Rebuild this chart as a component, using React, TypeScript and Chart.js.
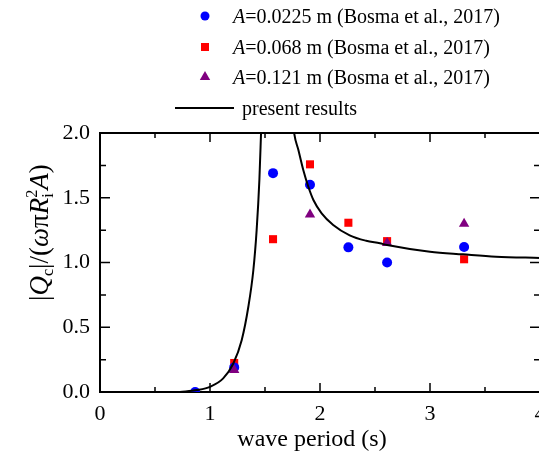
import React, { useEffect, useRef } from "react";
import { Chart, registerables } from "chart.js";

Chart.register(...registerables);

const FONT = "'Liberation Serif', 'Times New Roman', serif";

// tick values
const xTickValues = [0, 1, 2, 3, 4];
const xMinorValues = [0.5, 1.5, 2.5, 3.5];
const yTickValues = [0, 0.5, 1.0, 1.5, 2.0];
const yMinorValues = [0.25, 0.75, 1.25, 1.75];

// Bosma et al., 2017 – A = 0.0225 m
const periodsA1 = [0.865, 1.22, 1.573, 1.909, 2.258, 2.61, 3.31];
const valuesA1 = [0.0, 0.19, 1.69, 1.6, 1.117, 1.0, 1.12];
// A = 0.068 m
const periodsA2 = [1.22, 1.573, 1.909, 2.258, 2.61, 3.31];
const valuesA2 = [0.224, 1.18, 1.758, 1.307, 1.165, 1.025];
// A = 0.121 m
const periodsA3 = [1.22, 1.909, 2.61, 3.31];
const valuesA3 = [0.17, 1.37, 1.15, 1.3];

// present results (null = break at resonance)
const curvePeriods = [
  0.727, 0.88, 1.0, 1.12, 1.212, 1.288, 1.349, 1.394, 1.424, 1.449, 1.464, 1.48,
  1.6,
  1.72, 1.74, 1.767, 1.803, 1.848, 1.894, 1.94, 2.015, 2.12, 2.27, 2.42, 2.545,
  2.61, 3.0, 3.3, 3.6, 4.0,
];
const curveValues = [
  0.0, 0.015, 0.04, 0.105, 0.22, 0.4, 0.66, 0.94, 1.25, 1.64, 2.0, 2.4,
  null,
  2.4, 2.2, 1.99, 1.87, 1.714, 1.585, 1.483, 1.38, 1.29, 1.21, 1.168, 1.148,
  1.135, 1.083, 1.063, 1.045, 1.035,
];

const legendLabels = [
  "=0.0225 m (Bosma et al., 2017)",
  "=0.068 m (Bosma et al., 2017)",
  "=0.121 m (Bosma et al., 2017)",
];
const curveLabel = "present results";
const xTitle = "wave period (s)";

const BLUE = "#0000FF";
const RED = "#FF0000";
const PURPLE = "#800080";

function pts(xs: number[], ys: (number | null)[]) {
  return xs.map((x, i) => ({ x, y: ys[i] }));
}

const decorPlugin = {
  id: "decor",
  beforeDatasetsDraw(chart: any) {
    const ctx = chart.ctx;
    const { left, right, top, bottom } = chart.chartArea;
    const xs = chart.scales.x;
    const ys = chart.scales.y;
    ctx.save();
    ctx.strokeStyle = "#000";
    ctx.lineWidth = 2;
    ctx.beginPath();
    ctx.rect(left, top, right - left, bottom - top);
    ctx.stroke();
    ctx.lineWidth = 1.5;
    const vt = (v: number, len: number) => {
      const px = xs.getPixelForValue(v);
      ctx.beginPath();
      ctx.moveTo(px, bottom);
      ctx.lineTo(px, bottom - len);
      ctx.moveTo(px, top);
      ctx.lineTo(px, top + len);
      ctx.stroke();
    };
    const ht = (v: number, len: number) => {
      const py = ys.getPixelForValue(v);
      ctx.beginPath();
      ctx.moveTo(left, py);
      ctx.lineTo(left + len, py);
      ctx.moveTo(right, py);
      ctx.lineTo(right - len, py);
      ctx.stroke();
    };
    xTickValues.forEach((v) => vt(v, 9));
    xMinorValues.forEach((v) => vt(v, 5));
    yTickValues.forEach((v) => ht(v, 10));
    yMinorValues.forEach((v) => ht(v, 6));
    ctx.restore();
  },
  afterDraw(chart: any) {
    const ctx = chart.ctx;
    ctx.save();
    ctx.fillStyle = "#000";
    ctx.textBaseline = "alphabetic";
    ctx.textAlign = "left";

    // x title
    ctx.font = `24px ${FONT}`;
    const xw = ctx.measureText(xTitle).width;
    ctx.fillText(xTitle, 312 - xw / 2, 446);

    // y title (rotated)
    const S = 27;
    ctx.translate(48, 301);
    ctx.rotate(-Math.PI / 2);
    let x = 0;
    const put = (t: string, style: string, size: number, dy: number) => {
      ctx.font = `${style}${size}px ${FONT}`;
      ctx.fillText(t, x, dy);
      x += ctx.measureText(t).width;
    };
    put("|", "", S, 0);
    put("Q", "italic ", S, 0);
    put("c", "", S * 0.6, S * 0.2);
    put("|/(", "", S, 0);
    put("ω", "italic ", S, 0);
    put("π", "", S, 0);
    put("R", "italic ", S, 0);
    ctx.font = `${S * 0.6}px ${FONT}`;
    const x0 = x;
    ctx.fillText("2", x0, -S * 0.42);
    const w2 = ctx.measureText("2").width;
    ctx.fillText("i", x0, S * 0.2);
    x = x0 + w2;
    put("A", "italic ", S, 0);
    put(")", "", S, 0);
    ctx.setTransform(1, 0, 0, 1, 0, 0);

    // legend
    const symX = 205;
    const textX = 233;
    const rows = [16, 47, 77];
    ctx.fillStyle = BLUE;
    ctx.beginPath();
    ctx.arc(symX, rows[0], 4.5, 0, Math.PI * 2);
    ctx.fill();
    ctx.fillStyle = RED;
    ctx.fillRect(symX - 4, rows[1] - 4, 8, 8);
    ctx.fillStyle = PURPLE;
    ctx.beginPath();
    ctx.moveTo(symX, rows[2] - 6);
    ctx.lineTo(symX + 5.2, rows[2] + 3);
    ctx.lineTo(symX - 5.2, rows[2] + 3);
    ctx.closePath();
    ctx.fill();

    ctx.fillStyle = "#000";
    rows.forEach((ry, i) => {
      ctx.font = `italic 20px ${FONT}`;
      ctx.fillText("A", textX, ry + 7);
      const aw = ctx.measureText("A").width;
      ctx.font = `20px ${FONT}`;
      ctx.fillText(legendLabels[i], textX + aw, ry + 7);
    });
    ctx.strokeStyle = "#000";
    ctx.lineWidth = 2;
    ctx.beginPath();
    ctx.moveTo(175, 108);
    ctx.lineTo(234, 108);
    ctx.stroke();
    ctx.font = `20px ${FONT}`;
    ctx.fillText(curveLabel, 242, 115);
    ctx.restore();
  },
};

export default function App() {
  const ref = useRef<HTMLCanvasElement | null>(null);
  useEffect(() => {
    if (!ref.current) return;
    const chart = new Chart(ref.current, {
      type: "scatter",
      data: {
        datasets: [
          {
            type: "line",
            label: curveLabel,
            data: pts(curvePeriods, curveValues),
            borderColor: "#000",
            borderWidth: 2,
            pointRadius: 0,
            showLine: true,
            spanGaps: false,
            cubicInterpolationMode: "monotone",
            order: 0,
          } as any,
          {
            label: "A=0.121 m",
            data: pts(periodsA3, valuesA3),
            pointStyle: "triangle",
            pointRadius: 6,
            backgroundColor: PURPLE,
            borderColor: PURPLE,
            borderWidth: 0,
            clip: 0,
            order: 1,
          } as any,
          {
            label: "A=0.0225 m",
            data: pts(periodsA1, valuesA1),
            pointStyle: "circle",
            pointRadius: 5,
            backgroundColor: BLUE,
            borderColor: BLUE,
            borderWidth: 0,
            clip: 0,
            order: 2,
          } as any,
          {
            label: "A=0.068 m",
            data: pts(periodsA2, valuesA2),
            pointStyle: "rect",
            pointRadius: 5.7,
            backgroundColor: RED,
            borderColor: RED,
            borderWidth: 0,
            clip: 0,
            order: 3,
          } as any,
        ],
      },
      options: {
        responsive: false,
        animation: false,
        devicePixelRatio: 1,
        layout: { padding: { left: 0, top: 133, right: 20, bottom: 0 } },
        plugins: {
          legend: { display: false },
          tooltip: { enabled: false },
        },
        scales: {
          x: {
            type: "linear",
            min: 0,
            max: 4,
            grid: { display: false, drawTicks: false },
            border: { display: false },
            afterBuildTicks: (s: any) => {
              s.ticks = xTickValues.map((v) => ({ value: v }));
            },
            afterFit: (s: any) => {
              s.height = 63;
            },
            ticks: {
              padding: 9,
              color: "#000",
              font: { family: FONT, size: 22 },
              callback: (v: any) => String(v),
            },
          },
          y: {
            type: "linear",
            min: 0,
            max: 2,
            grid: { display: false, drawTicks: false },
            border: { display: false },
            afterBuildTicks: (s: any) => {
              s.ticks = yTickValues.map((v) => ({ value: v }));
            },
            afterFit: (s: any) => {
              s.width = 100;
            },
            ticks: {
              padding: 10,
              color: "#000",
              font: { family: FONT, size: 22 },
              callback: (v: any) => Number(v).toFixed(1),
            },
          },
        },
      } as any,
      plugins: [decorPlugin],
    });
    return () => chart.destroy();
  }, []);
  return (
    <div
      style={{
        position: "fixed",
        left: 0,
        top: 0,
        width: 539,
        height: 455,
        overflow: "hidden",
        background: "#fff",
      }}
    >
      <canvas
        ref={ref}
        width={560}
        height={455}
        style={{ width: 560, height: 455, display: "block" }}
      />
    </div>
  );
}
